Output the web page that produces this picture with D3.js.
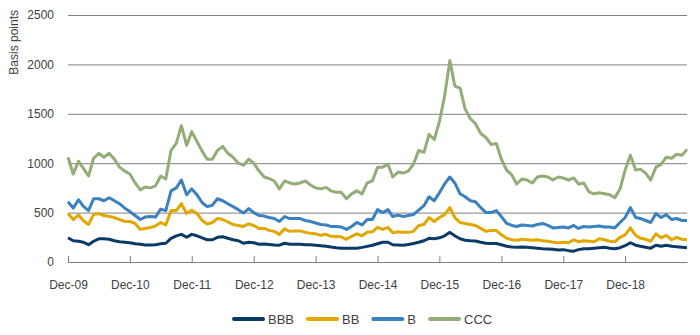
<!DOCTYPE html>
<html>
<head>
<meta charset="utf-8">
<script src="https://cdn.jsdelivr.net/npm/d3@7"></script>
<style>
	body { margin: 0; background: #fff; }
	svg { display: block; font-family: "Liberation Sans", Arial, sans-serif; }
</style>
</head>
<body>
<svg id="chart" width="700" height="335"></svg>
<script>
// monthly spreads, Dec-09 .. Dec-19
var startMonth = new Date(2009, 11, 1);

var bbb = [245, 215, 210, 200, 175, 210, 235, 235, 230, 215, 205, 200,
	195, 185, 180, 172, 172, 175, 185, 190, 240, 265, 280, 250,
	280, 265, 245, 225, 225, 250, 255, 240, 225, 215, 190, 200,
	195, 180, 182, 178, 172, 170, 190, 180, 180, 180, 175, 175,
	170, 165, 160, 152, 145, 140, 138, 138, 140, 148, 158, 170,
	185, 200, 200, 175, 172, 170, 178, 188, 200, 215, 240, 235,
	245, 265, 300, 265, 235, 220, 215, 212, 200, 190, 188, 188,
	175, 160, 152, 150, 152, 150, 145, 140, 135, 132, 128, 122,
	125, 115, 110, 125, 135, 135, 140, 145, 150, 140, 135, 145,
	165, 195, 170, 160, 150, 140, 170, 160, 170, 160, 155, 150,
	145];

var bb = [490, 430, 475, 420, 380, 480, 490, 470, 460, 450, 430, 410,
	410, 390, 330, 340, 350, 365, 400, 375, 520, 520, 590, 490,
	525, 490, 420, 385, 400, 440, 430, 405, 380, 370, 360, 385,
	370, 340, 340, 320, 310, 280, 335, 310, 315, 315, 300, 290,
	285, 270, 280, 260, 258, 255, 230, 260, 285, 265, 300, 305,
	350, 330, 350, 295, 305, 300, 300, 310, 370, 380, 450, 410,
	450, 480, 550, 450, 400, 390, 380, 370, 340, 310, 320, 320,
	275, 240, 225, 220, 230, 225, 220, 225, 215, 210, 200, 195,
	200, 195, 225, 205, 215, 210, 205, 235, 225, 210, 205, 250,
	275, 345, 270, 240, 230, 210, 285, 245, 270, 225, 250, 230,
	225];

var b = [610, 545, 630, 565, 520, 640, 640, 620, 650, 620, 590, 545,
	510, 470, 430, 455, 460, 455, 535, 520, 720, 750, 830, 680,
	740, 680, 600, 560, 575, 640, 620, 590, 560, 530, 495, 540,
	500, 470, 465, 450, 440, 410, 460, 440, 440, 440, 420, 410,
	395, 380, 375, 360, 360, 355, 330, 360, 400, 375, 430, 430,
	530, 500, 530, 460, 475, 460, 470, 480, 525, 570, 660, 620,
	700, 790, 860, 800, 690, 660, 620, 610, 550, 500, 500, 520,
	460, 390, 370, 360, 375, 370, 365, 380, 390, 370, 345, 350,
	355, 345, 370, 340, 360, 355, 360, 365, 355, 355, 345, 400,
	450, 550, 450, 440, 420, 400, 490, 450, 480, 430, 440, 420,
	420];

var ccc = [1060, 890, 1020, 950, 870, 1050, 1100, 1060, 1100, 1040, 960, 920,
	890, 800, 730, 760, 750, 770, 870, 840, 1130, 1200, 1380, 1180,
	1320, 1220, 1120, 1040, 1040, 1130, 1170, 1100, 1060, 1000, 980, 1040,
	1000, 920, 860, 845, 820, 740, 820, 800, 790, 800, 820, 780,
	750, 740, 755, 720, 705, 705, 640, 690, 720, 690, 800, 820,
	960, 960, 990, 860, 910, 900, 920, 990, 1130, 1110, 1290, 1240,
	1420, 1680, 2040, 1780, 1760, 1550, 1450, 1400, 1300, 1260, 1190, 1200,
	1040, 930, 880, 790, 840, 830, 800, 860, 870, 860, 830, 860,
	850, 830, 850, 790, 800, 710, 690, 700, 690, 680, 650, 740,
	930, 1080, 930, 940, 900, 830, 960, 990, 1060, 1050, 1090, 1080,
	1140];

var seriesNames = ["BBB", "BB", "B", "CCC"];
var seriesColors = ["#0b3a66", "#e2a700", "#3b80bf", "#93ad78"];
var seriesValues = [bbb, bb, b, ccc];

var yTicks = [0, 500, 1000, 1500, 2000, 2500];
var xTickYears = [2009, 2010, 2011, 2012, 2013, 2014, 2015, 2016, 2017, 2018];

(function () {
	var svg = d3.select("#chart");
	var plotLeft = 68, plotRight = 687, plotTop = 15, plotBottom = 262;
	var textColor = "#404040", gridColor = "#808080";

	var x = d3.scaleTime()
		.domain([startMonth, d3.timeMonth.offset(startMonth, 120)])
		.range([plotLeft, plotRight]);
	var y = d3.scaleLinear().domain([0, 2500]).range([plotBottom, plotTop]);

	// gridlines + y labels
	var yAxis = svg.append("g")
		.attr("transform", "translate(" + plotLeft + ",0)")
		.call(d3.axisLeft(y).tickValues(yTicks).tickFormat(d3.format("d"))
			.tickSize(-(plotRight - plotLeft)).tickPadding(14));
	yAxis.select(".domain").remove();
	yAxis.selectAll("line").attr("stroke", gridColor).attr("stroke-width", 1);
	yAxis.selectAll("text").attr("fill", textColor).attr("font-size", 12)
		.attr("font-family", "Liberation Sans, Arial, sans-serif");

	svg.append("text")
		.attr("transform", "translate(18,10) rotate(-90)")
		.attr("text-anchor", "end")
		.attr("fill", textColor)
		.attr("font-size", 12)
		.text("Basis points");

	// x axis, ticks pointing up
	var xAxis = svg.append("g")
		.attr("transform", "translate(0," + plotBottom + ")")
		.call(d3.axisBottom(x)
			.tickValues(xTickYears.map(function (yr) { return new Date(yr, 11, 1); }))
			.tickFormat(d3.timeFormat("%b-%y"))
			.tickSizeInner(-6).tickSizeOuter(0).tickPadding(18));
	xAxis.select(".domain").attr("stroke", gridColor);
	xAxis.selectAll("line").attr("stroke", gridColor);
	xAxis.selectAll("text").attr("fill", textColor).attr("font-size", 12)
		.attr("font-family", "Liberation Sans, Arial, sans-serif");

	var line = d3.line()
		.x(function (d, i) { return x(d3.timeMonth.offset(startMonth, i)); })
		.y(function (d) { return y(d); });

	seriesValues.forEach(function (vals, k) {
		svg.append("path")
			.datum(vals)
			.attr("fill", "none")
			.attr("stroke", seriesColors[k])
			.attr("stroke-width", 3)
			.attr("stroke-linejoin", "round")
			.attr("d", line);
	});

	// legend
	var legend = svg.append("g").attr("font-size", 13).attr("fill", textColor);
	var lx = 234, ly = 319;
	seriesNames.forEach(function (name, k) {
		legend.append("line")
			.attr("x1", lx).attr("x2", lx + 29)
			.attr("y1", ly).attr("y2", ly)
			.attr("stroke", seriesColors[k])
			.attr("stroke-width", 4)
			.attr("stroke-linecap", "round");
		var t = legend.append("text")
			.attr("x", lx + 34).attr("y", ly)
			.attr("dy", "0.35em")
			.text(name);
		lx += 34 + t.node().getComputedTextLength() + 14;
	});
})();
</script>
</body>
</html>
